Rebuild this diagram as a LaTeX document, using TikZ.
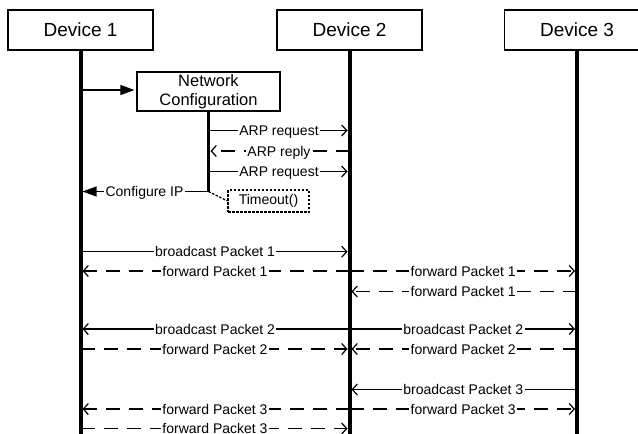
\documentclass[tikz,border=0pt]{standalone}
\usepackage{fontspec}
\setmainfont{Liberation Sans}
\usetikzlibrary{arrows.meta}
\tikzset{
 dev/.style={draw, line width=1.3pt, minimum width=145pt, minimum height=40pt, inner sep=0pt, font=\fontsize{19}{22}\selectfont},
 life/.style={line width=4pt},
 sublife/.style={line width=2.8pt},
 msg/.style={line width=1.2pt, -{Straight Barb[length=5pt,width=11pt]}, shorten >=2pt},
 dmsg/.style={msg, dash pattern=on 14pt off 9pt},
 fmsg/.style={line width=1.2pt, -{Triangle[length=14pt,width=10pt]}, shorten >=2pt},
 lbl/.style={fill=white, inner sep=1.5pt, text height=10pt, text depth=0pt, font=\fontsize{14}{16}\selectfont},
 dotbox/.style={draw, line width=1.2pt, dash pattern=on 2.5pt off 1.5pt, minimum width=81pt, minimum height=22pt, inner sep=0pt, font=\fontsize{14}{16}\selectfont},
}
\begin{document}
\begin{tikzpicture}[x=1pt,y=-1pt]
\clip (0,0) rectangle (638,434);
\fill[white] (0,0) rectangle (638,434);
% devices
\node[dev] (d1) at (80.5,30) {Device 1};
\node[dev] (d2) at (349.5,30) {Device 2};
\node[dev] (d3) at (577,30) {Device 3};
\coordinate (bot) at (0,440);
% network configuration
\node[draw, line width=1.3pt, minimum width=143pt, minimum height=39pt, inner sep=0pt, align=center,
      font=\fontsize{16.5}{19}\selectfont] (nc) at (208.5,91.5) {Network\\Configuration};
% rows
\coordinate (r0) at (0,90);
\coordinate (r1) at (0,130.5);
\coordinate (r2) at (0,151);
\coordinate (r3) at (0,171.5);
\coordinate (r4) at (0,191.5);
\coordinate (p1) at (0,251.7);
\coordinate (p2) at (0,271);
\coordinate (p3) at (0,291.5);
\coordinate (p4) at (0,329);
\coordinate (p5) at (0,349);
\coordinate (p6) at (0,389.5);
\coordinate (p7) at (0,409);
\coordinate (p8) at (0,428.5);
% messages
\draw[fmsg] (d1.south |- r0) -- (nc.west |- r0);
\draw[msg] (nc.south |- r1) -- node[lbl] {ARP request} (d2.south |- r1);
\draw[dmsg] (d2.south |- r2) -- node[lbl] {ARP reply} (nc.south |- r2);
\draw[msg] (nc.south |- r3) -- node[lbl] {ARP request} (d2.south |- r3);
\draw[fmsg] (nc.south |- r4) -- node[lbl] {Configure IP} (d1.south |- r4);
\node[dotbox] (to) at (268.5,201) {Timeout()};
\draw[line width=1.2pt, dash pattern=on 2.5pt off 1.5pt] (nc.south |- r4) -- (to.west);

\draw[msg] (d1.south |- p1) -- node[lbl] {broadcast Packet 1} (d2.south |- p1);
\draw[dmsg] (d2.south |- p2) -- node[lbl] {forward Packet 1} (d1.south |- p2);
\draw[dmsg] (d2.south |- p2) -- node[lbl] {forward Packet 1} (d3.south |- p2);
\draw[dmsg] (d3.south |- p3) -- node[lbl] {forward Packet 1} (d2.south |- p3);

\draw[msg] (d2.south |- p4) -- node[lbl] {broadcast Packet 2} (d1.south |- p4);
\draw[msg] (d2.south |- p4) -- node[lbl] {broadcast Packet 2} (d3.south |- p4);
\draw[dmsg] (d1.south |- p5) -- node[lbl] {forward Packet 2} (d2.south |- p5);
\draw[dmsg] (d3.south |- p5) -- node[lbl] {forward Packet 2} (d2.south |- p5);

\draw[msg] (d3.south |- p6) -- node[lbl] {broadcast Packet 3} (d2.south |- p6);
\draw[dmsg] (d2.south |- p7) -- node[lbl] {forward Packet 3} (d1.south |- p7);
\draw[dmsg] (d2.south |- p7) -- node[lbl] {forward Packet 3} (d3.south |- p7);
\draw[dmsg] (d1.south |- p8) -- node[lbl] {forward Packet 3} (d2.south |- p8);

% lifelines
\draw[life] (d1.south) -- (d1.south |- bot);
\draw[life] (d2.south) -- (d2.south |- bot);
\draw[life] (d3.south) -- (d3.south |- bot);
\draw[sublife] (nc.south) -- ([yshift=-0.8pt]nc.south |- r4);
\end{tikzpicture}
\end{document}
